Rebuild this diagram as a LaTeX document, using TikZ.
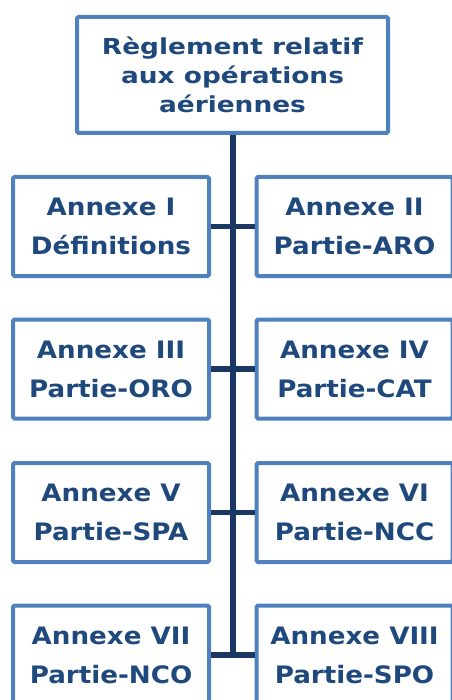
\documentclass[tikz,border=0pt]{standalone}
\usepackage{fontspec}
\setmainfont{DejaVu Sans}
\newfontfamily\titlefont[FakeStretch=1.2]{DejaVu Sans}
\newfontfamily\annexfont[FakeStretch=1.09]{DejaVu Sans}
\usepackage{xcolor}
\usepackage{tikz}
\usetikzlibrary{positioning,calc}
\definecolor{frame}{HTML}{4F81BD}
\definecolor{ink}{HTML}{1F497D}
\definecolor{trunk}{HTML}{1A3863}
\tikzset{annexbox/.style={draw=frame,fill=white,line width=4pt,rounded corners=1.5pt,
  align=center,inner sep=0pt,minimum width=196pt,minimum height=99pt,text=ink,
  font=\annexfont\fontsize{24}{39}\selectfont\bfseries},
  titlebox/.style={annexbox,minimum width=311pt,minimum height=116pt,
  font=\titlefont\fontsize{22}{29}\selectfont\bfseries},
  link/.style={draw=trunk,line width=5.5pt},
  spine/.style={draw=trunk,line width=6pt}}

\begin{document}
\begin{tikzpicture}[x=1pt,y=-1pt]
\useasboundingbox (0,0) rectangle (451,700);
\node[titlebox] (reg) at (232.5,75) {Règlement relatif\\aux opérations\\aériennes};
\node[annexbox] (a1) at (111,226.5) {Annexe I\\Définitions};
\node[annexbox,right=43.5pt of a1] (a2) {Annexe II\\Partie-ARO};
\node[annexbox] (a3) at (111,369) {Annexe III\\Partie-ORO};
\node[annexbox,right=43.5pt of a3] (a4) {Annexe IV\\Partie-CAT};
\node[annexbox] (a5) at (111,512.5) {Annexe V\\Partie-SPA};
\node[annexbox,right=43.5pt of a5] (a6) {Annexe VI\\Partie-NCC};
\node[annexbox] (a7) at (111,655) {Annexe VII\\Partie-NCO};
\node[annexbox,right=43.5pt of a7] (a8) {Annexe VIII\\Partie-SPO};
% branches between each pair
\foreach \l/\r in {a1/a2,a3/a4,a5/a6,a7/a8}
  \draw[link] (\l.east) -- (\r.west);
\draw[spine] (reg.south) -- (reg.south |- a7.east);
\end{tikzpicture}
\end{document}
